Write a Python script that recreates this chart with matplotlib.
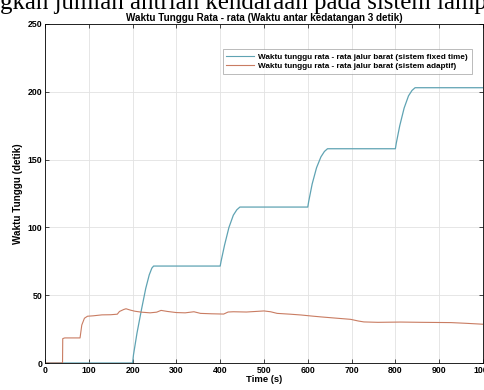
import numpy as np
import matplotlib as mpl, matplotlib.pyplot as plt

mpl.rcParams.update({"font.family": "sans-serif", "font.sans-serif": ["Liberation Sans", "DejaVu Sans"],
                     "font.weight": "bold", "axes.linewidth": 0.6})

# fixed-time system: mean waiting time (s)
fixed_t = [0, 200, 202, 210, 220, 230, 238, 244, 248, 400, 402, 410, 420, 430, 438, 445, 450,
           600, 602, 610, 620, 630, 638, 645, 650, 800, 802, 810, 820, 830, 838, 845, 850, 1000]
fixed_w = [0, 0, 6, 22, 39, 55, 65, 70, 71.5, 71.5, 75, 87, 100, 109, 113, 115, 115,
           115, 119, 132, 144, 152, 156, 158, 158, 158, 162, 175, 188, 197, 201, 203, 203, 203]

# adaptive system: mean waiting time (s)
adapt_t = [0, 40, 40.5, 45, 80, 84, 90, 97, 110, 130, 150, 165, 170, 180, 185, 195, 205, 220, 240, 255, 265, 280,
           300, 320, 340, 355, 380, 408, 418, 430, 460, 500, 515, 530, 560, 585, 610, 630, 660, 698, 715, 728,
           760, 812, 860, 927, 960, 1000]
adapt_w = [0, 0, 18, 18.5, 18.5, 28, 33, 34.5, 34.8, 35.5, 35.6, 36, 38, 39.5, 40, 39, 38.2, 37.5, 37, 37.5, 38.8, 38,
           37.2, 37, 37.8, 36.6, 36.3, 36.1, 37.6, 37.8, 37.6, 38.4, 37.8, 36.6, 36, 35.4, 34.6, 34, 33.2, 32.2, 31, 30.3,
           30, 30.2, 30, 29.8, 29.3, 28.6]

LABELS = ["Waktu tunggu rata - rata jalur barat (sistem fixed time)",
          "Waktu tunggu rata - rata jalur barat (sistem adaptif)"]

fig = plt.figure(figsize=(4.85, 3.9), dpi=100)
fig.text(0.0, 0.976, "gkan jumlah antrian kendaraan pada sistem lampu", family="Liberation Serif",
         fontweight="normal", fontsize=17.9, va="baseline", ha="left")
ax = fig.add_axes([0.0928, 0.0692, 0.903, 0.8693])
ax.plot(fixed_t, fixed_w, color="#5fa3b3", lw=0.9, label=LABELS[0])
ax.plot(adapt_t, adapt_w, color="#c97c62", lw=0.8, label=LABELS[1])
ax.set_xlim(0, 1000); ax.set_ylim(0, 250)
ax.set_xticks(np.arange(0, 1001, 100)); ax.set_yticks(np.arange(0, 251, 50))
ax.grid(True, color="#e2e2e2", lw=0.6)
ax.tick_params(direction="in", top=True, right=True, labelsize=6.3, length=3, width=0.5, pad=2)
ax.set_title("Waktu Tunggu Rata - rata (Waktu antar kedatangan 3 detik)", fontsize=7.1, pad=2.5, fontweight="bold")
ax.set_xlabel("Time (s)", fontsize=6.8, labelpad=0, fontweight="bold")
ax.set_ylabel("Waktu Tunggu (detik)", fontsize=7.1, labelpad=3, fontweight="bold")
leg = ax.legend(loc="upper right", bbox_to_anchor=(0.984, 0.937), fontsize=5.9, frameon=True, fancybox=False,
                edgecolor="#888888", handlelength=3.3, handletextpad=0.6, borderpad=0.45, labelspacing=0.15)
leg.get_frame().set_linewidth(0.5)
for line in leg.get_lines():
    line.set_linewidth(0.8)
fig.savefig("out.png", dpi=100)
